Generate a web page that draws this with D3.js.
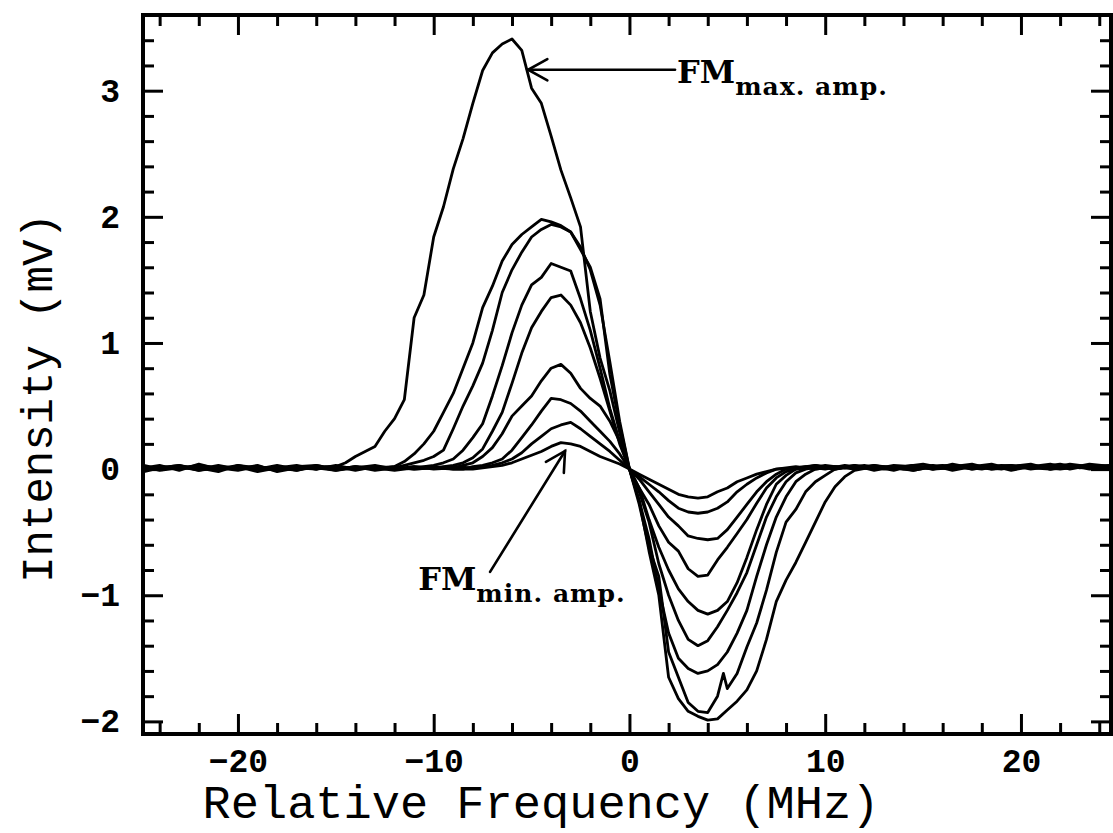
<!DOCTYPE html>
<html>
<head>
<meta charset="utf-8">
<script src="https://cdn.jsdelivr.net/npm/d3@7/dist/d3.min.js"></script>
<style>
  html, body { margin: 0; padding: 0; background: #fff; }
  svg { display: block; }
</style>
</head>
<body>
<svg id="chart" width="1113" height="833"></svg>
<script>
// ---------------- DATA (frequency in MHz, intensity in mV) ----------------
const xTickValues = [-20, -10, 0, 10, 20];
const yTickValues = [-2, -1, 0, 1, 2, 3];
const xTitle = "Relative Frequency (MHz)";
const yTitle = "Intensity (mV)";

// FM max. amplitude trace
const fm1 = [[-24.8,0.01],[-24,0.03],[-23,-0.01],[-22,0.04],[-21,0.0],[-20,0.02],[-19,-0.02],[-18,0.01],[-17,0.03],[-16,0.0],[-15.5,0.02],
[-15,0.02],[-14.5,0.05],[-14,0.10],[-13.5,0.14],[-13,0.18],[-12.5,0.30],[-12,0.40],[-11.5,0.55],[-11,1.20],[-10.5,1.38],[-10,1.84],[-9.5,2.08],[-9,2.38],[-8.5,2.62],[-8,2.90],[-7.5,3.16],[-7,3.30],[-6.5,3.37],[-6,3.41],[-5.5,3.32],[-5,3.02],[-4.5,2.90],[-4,2.64],[-3.5,2.37],[-3,2.15],[-2.5,1.92],[-2,1.25],[-1.5,0.88],[-1,0.62],[-0.5,0.29],[0,0.0],
[0.5,-0.25],[1,-0.65],[1.5,-1.0],[2,-1.65],[2.5,-1.82],[3,-1.92],[3.5,-1.96],[4,-1.99],[4.5,-1.98],[5,-1.91],[5.5,-1.84],[6,-1.75],[6.5,-1.60],[7,-1.35],[7.5,-1.05],[8,-0.88],[8.5,-0.74],[9,-0.58],[9.5,-0.42],[10,-0.26],[10.5,-0.14],[11,-0.06],[11.5,-0.01],
[12.5,0.02],[13.5,-0.01],[14.5,0.03],[15.5,0.0],[16.5,0.04],[17.5,0.01],[18.5,0.03],[19.5,-0.01],[20.5,0.02],[21.5,0.04],[22.5,0.0],[23.5,0.03],[24.7,0.01]];

const fm2 = [[-24.8,-0.02],[-24,0.01],[-23,0.03],[-22,-0.01],[-21,0.02],[-20,0.0],[-19,0.03],[-18,-0.02],[-17,0.01],[-16,0.02],[-15,-0.01],[-14,0.02],[-13,0.0],
[-12,0.02],[-11.5,0.06],[-11,0.12],[-10.5,0.20],[-10,0.30],[-9.5,0.45],[-9,0.60],[-8.5,0.80],[-8,1.00],[-7.5,1.28],[-7,1.45],[-6.5,1.65],[-6,1.78],[-5.5,1.86],[-5,1.92],[-4.5,1.98],[-4,1.96],[-3.5,1.93],[-3,1.88],[-2.5,1.74],[-2,1.60],[-1.5,1.35],[-1,0.75],[-0.5,0.35],[0,0],
[0.5,-0.28],[1,-0.62],[1.5,-0.85],[2,-1.45],[2.5,-1.65],[3,-1.85],[3.5,-1.92],[4,-1.93],[4.5,-1.80],[4.8,-1.62],[5,-1.74],[5.5,-1.62],[6,-1.41],[6.5,-1.22],[7,-0.96],[7.5,-0.66],[8,-0.42],[8.5,-0.32],[9,-0.18],[9.5,-0.10],[10,-0.05],[10.5,0.0],
[11.5,0.03],[12.5,-0.01],[13.5,0.02],[14.5,0.0],[15.5,0.03],[16.5,-0.01],[17.5,0.02],[18.5,0.04],[19.5,0.0],[20.5,0.03],[21.5,0.01],[22.5,0.04],[23.5,0.02],[24.7,0.03]];

const fm3 = [[-24.8,0.03],[-24,0.0],[-23,0.02],[-22,0.01],[-21,-0.02],[-20,0.03],[-19,0.0],[-18,0.02],[-17,-0.01],[-16,0.03],[-15,0.0],[-14,0.02],[-13,-0.01],
[-12,0.01],[-11.5,0.03],[-11,0.05],[-10.5,0.07],[-10,0.10],[-9.5,0.15],[-9,0.32],[-8.5,0.50],[-8,0.66],[-7.5,0.84],[-7,1.10],[-6.5,1.40],[-6,1.58],[-5.5,1.72],[-5,1.84],[-4.5,1.90],[-4,1.94],[-3.5,1.92],[-3,1.88],[-2.5,1.76],[-2,1.58],[-1.5,1.30],[-1,0.85],[-0.5,0.38],[0,0],
[0.5,-0.25],[1,-0.55],[1.5,-0.95],[2,-1.30],[2.5,-1.50],[3,-1.58],[3.5,-1.62],[4,-1.60],[4.5,-1.55],[5,-1.45],[5.5,-1.30],[6,-1.12],[6.5,-0.85],[7,-0.60],[7.5,-0.38],[8,-0.22],[8.5,-0.10],[9,-0.04],[9.5,0.0],
[10.5,0.02],[11.5,0.0],[12.5,0.03],[13.5,0.01],[14.5,-0.01],[15.5,0.02],[16.5,0.03],[17.5,0.0],[18.5,0.02],[19.5,0.03],[20.5,0.0],[21.5,0.02],[22.5,0.03],[23.5,0.0],[24.7,0.02]];

const fm4 = [[-24.8,0.0],[-24,0.02],[-23,0.0],[-22,0.03],[-21,0.01],[-20,-0.01],[-19,0.02],[-18,0.0],[-17,0.02],[-16,0.03],[-15,0.0],[-14,0.01],[-13,0.03],[-12,0.0],
[-11,0.01],[-10.5,0.02],[-10,0.03],[-9.5,0.05],[-9,0.08],[-8.5,0.15],[-8,0.25],[-7.5,0.36],[-7,0.58],[-6.5,0.82],[-6,1.08],[-5.5,1.30],[-5,1.46],[-4.5,1.52],[-4,1.63],[-3.5,1.60],[-3,1.57],[-2.5,1.35],[-2,1.10],[-1.5,0.80],[-1,0.48],[-0.5,0.22],[0,0],
[0.5,-0.18],[1,-0.42],[1.5,-0.75],[2,-1.0],[2.5,-1.20],[3,-1.35],[3.5,-1.40],[4,-1.36],[4.5,-1.25],[5,-1.12],[5.5,-0.98],[6,-0.82],[6.5,-0.60],[7,-0.38],[7.5,-0.22],[8,-0.10],[8.5,-0.03],[9,0.0],
[10,0.03],[11,0.01],[12,0.03],[13,0.0],[14,0.02],[15,0.04],[16,0.01],[17,0.02],[18,0.0],[19,0.03],[20,0.01],[21,0.02],[22,0.04],[23,0.01],[24,0.02],[24.7,0.0]];

const fm5 = [[-24.8,0.02],[-24,-0.01],[-23,0.01],[-22,0.02],[-21,0.0],[-20,0.03],[-19,0.01],[-18,-0.01],[-17,0.02],[-16,0.0],[-15,0.03],[-14,0.0],[-13,0.02],[-12,0.01],[-11,0.0],
[-10,0.01],[-9.5,0.02],[-9,0.03],[-8.5,0.05],[-8,0.09],[-7.5,0.16],[-7,0.30],[-6.5,0.45],[-6,0.68],[-5.5,0.92],[-5,1.12],[-4.5,1.25],[-4,1.36],[-3.5,1.38],[-3,1.30],[-2.5,1.16],[-2,0.96],[-1.5,0.72],[-1,0.46],[-0.5,0.20],[0,0],
[0.5,-0.15],[1,-0.40],[1.5,-0.62],[2,-0.80],[2.5,-0.95],[3,-1.05],[3.5,-1.12],[4,-1.15],[4.5,-1.12],[5,-1.05],[5.5,-0.90],[6,-0.70],[6.5,-0.48],[7,-0.28],[7.5,-0.12],[8,-0.05],[8.5,0.0],
[9.5,0.02],[10.5,0.0],[11.5,0.03],[12.5,0.01],[13.5,0.02],[14.5,-0.01],[15.5,0.02],[16.5,0.0],[17.5,0.03],[18.5,0.01],[19.5,0.02],[20.5,0.04],[21.5,0.0],[22.5,0.02],[23.5,0.01],[24.7,0.03]];

const fm6 = [[-24.8,0.0],[-24,0.01],[-23,0.03],[-22,0.0],[-21,0.02],[-20,0.01],[-19,0.0],[-18,0.03],[-17,0.0],[-16,0.01],[-15,0.02],[-14,-0.01],[-13,0.02],[-12,0.0],[-11,0.02],[-10,0.0],
[-9,0.01],[-8.5,0.03],[-8,0.05],[-7.5,0.10],[-7,0.17],[-6.5,0.28],[-6,0.42],[-5.5,0.50],[-5,0.58],[-4.5,0.70],[-4,0.80],[-3.5,0.83],[-3,0.76],[-2.5,0.64],[-2,0.56],[-1.5,0.50],[-1,0.38],[-0.5,0.22],[0,0],
[0.5,-0.15],[1,-0.28],[1.5,-0.45],[2,-0.58],[2.5,-0.65],[3,-0.79],[3.5,-0.85],[4,-0.84],[4.5,-0.72],[5,-0.62],[5.5,-0.51],[6,-0.40],[6.5,-0.27],[7,-0.15],[7.5,-0.07],[8,-0.02],[8.5,0.0],
[9.5,0.03],[10.5,0.01],[11.5,0.02],[12.5,0.0],[13.5,0.03],[14.5,0.02],[15.5,0.0],[16.5,0.02],[17.5,0.04],[18.5,0.0],[19.5,0.02],[20.5,0.01],[21.5,0.03],[22.5,0.01],[23.5,0.04],[24.7,0.02]];

const fm7 = [[-24.8,0.02],[-24,0.0],[-23,0.02],[-22,-0.01],[-21,0.01],[-20,0.02],[-19,0.0],[-18,0.01],[-17,-0.01],[-16,0.02],[-15,0.0],[-14,0.02],[-13,0.01],[-12,-0.01],[-11,0.01],[-10,0.02],[-9,0.0],
[-8.5,0.0],[-8,0.02],[-7.5,0.03],[-7,0.05],[-6.5,0.08],[-6,0.15],[-5.5,0.25],[-5,0.35],[-4.5,0.46],[-4,0.56],[-3.5,0.55],[-3,0.52],[-2.5,0.46],[-2,0.38],[-1.5,0.30],[-1,0.22],[-0.5,0.12],[0,0],
[0.5,-0.08],[1,-0.18],[1.5,-0.28],[2,-0.38],[2.5,-0.45],[3,-0.53],[3.5,-0.55],[4,-0.56],[4.5,-0.55],[5,-0.48],[5.5,-0.38],[6,-0.28],[6.5,-0.18],[7,-0.10],[7.5,-0.04],[8,0.0],
[9,0.02],[10,0.0],[11,0.03],[12,0.01],[13,0.02],[14,0.0],[15,0.02],[16,0.03],[17,0.01],[18,0.02],[19,0.0],[20,0.03],[21,0.02],[22,0.0],[23,0.02],[24,0.03],[24.7,0.01]];

const fm8 = [[-24.8,-0.01],[-24,0.02],[-23,0.01],[-22,0.0],[-21,0.03],[-20,0.0],[-19,0.02],[-18,0.0],[-17,0.02],[-16,0.01],[-15,-0.01],[-14,0.01],[-13,0.02],[-12,0.0],[-11,0.02],[-10,0.01],[-9,0.02],
[-8,0.01],[-7.5,0.02],[-7,0.03],[-6.5,0.05],[-6,0.08],[-5.5,0.13],[-5,0.20],[-4.5,0.26],[-4,0.32],[-3.5,0.35],[-3,0.37],[-2.5,0.32],[-2,0.26],[-1.5,0.20],[-1,0.14],[-0.5,0.07],[0,0],
[0.5,-0.06],[1,-0.12],[1.5,-0.18],[2,-0.25],[2.5,-0.31],[3,-0.34],[3.5,-0.35],[4,-0.34],[4.5,-0.31],[5,-0.26],[5.5,-0.18],[6,-0.12],[6.5,-0.07],[7,-0.03],[7.5,0.0],
[8.5,0.02],[9.5,0.0],[10.5,0.02],[11.5,0.01],[12.5,0.03],[13.5,0.0],[14.5,0.02],[15.5,0.01],[16.5,0.03],[17.5,0.0],[18.5,0.02],[19.5,0.03],[20.5,0.01],[21.5,0.0],[22.5,0.03],[23.5,0.02],[24.7,0.0]];

// FM min. amplitude trace
const fm9 = [[-24.8,0.01],[-24,0.0],[-23,0.01],[-22,0.03],[-21,0.0],[-20,0.01],[-19,0.02],[-18,-0.01],[-17,0.01],[-16,0.0],[-15,0.02],[-14,0.0],[-13,0.01],[-12,0.02],[-11,0.0],[-10,0.01],[-9,0.0],
[-8,0.0],[-7.5,0.01],[-7,0.02],[-6.5,0.03],[-6,0.05],[-5.5,0.08],[-5,0.11],[-4.5,0.14],[-4,0.18],[-3.5,0.21],[-3,0.20],[-2.5,0.18],[-2,0.14],[-1.5,0.10],[-1,0.07],[-0.5,0.04],[0,0],
[0.5,-0.04],[1,-0.08],[1.5,-0.12],[2,-0.16],[2.5,-0.20],[3,-0.22],[3.5,-0.23],[4,-0.22],[4.5,-0.18],[5,-0.15],[5.5,-0.10],[6,-0.07],[6.5,-0.04],[7,-0.02],[7.5,0.0],
[8.5,0.01],[9.5,0.03],[10.5,0.0],[11.5,0.02],[12.5,0.0],[13.5,0.01],[14.5,0.03],[15.5,0.0],[16.5,0.01],[17.5,0.02],[18.5,0.0],[19.5,0.01],[20.5,0.03],[21.5,0.0],[22.5,0.01],[23.5,0.02],[24.7,0.01]];

const traces = [fm1, fm2, fm3, fm4, fm5, fm6, fm7, fm8, fm9];

// annotations (data coordinates)
const annMax = { label: "FM", sub: "max. amp.", text: [2.43, 3.063], from: [2.33, 3.166], to: [-5.18, 3.166] };
const annMin = { label: "FM", sub: "min. amp.", text: [-10.79, -0.958], from: [-7.12, -0.815], to: [-3.29, 0.144] };

// ---------------- CHART ----------------
const svg = d3.select("#chart");
const L = 143, R = 1111, T = 15, B = 734;

const x = d3.scaleLinear().domain([-24.85, 24.6]).range([L, R]);
const y = d3.scaleLinear().domain([-2.1, 3.6]).range([B, T]);

svg.append("rect").attr("width", 1113).attr("height", 833).attr("fill", "#fff");

svg.append("defs").append("clipPath").attr("id", "clip")
  .append("rect").attr("x", L).attr("y", T).attr("width", R - L).attr("height", B - T);

// traces
const line = d3.line().x(d => x(d[0])).y(d => y(d[1]));
svg.append("g").attr("clip-path", "url(#clip)")
  .selectAll("path").data(traces).join("path")
  .attr("d", line)
  .attr("fill", "none")
  .attr("stroke", "#000")
  .attr("stroke-width", 2.8)
  .attr("stroke-linejoin", "round");

// axes helpers
const tickFont = "'Liberation Mono', 'DejaVu Sans Mono', monospace";
function styleAxis(g) {
  g.select(".domain").remove();
  g.selectAll(".tick line").attr("stroke", "#000").attr("stroke-width", 3);
  g.selectAll(".tick text").attr("fill", "#000")
    .style("font-family", tickFont).style("font-size", "33px").style("font-weight", "bold");
}
const minorX = x.ticks(25).filter(v => !xTickValues.includes(v));
const minorY = y.ticks(28).filter(v => !yTickValues.some(t => Math.abs(t - v) < 1e-6));

// bottom
svg.append("g").attr("transform", `translate(0,${B})`)
  .call(d3.axisBottom(x).tickValues(xTickValues).tickSize(-20).tickPadding(15)).call(styleAxis);
svg.append("g").attr("transform", `translate(0,${B})`)
  .call(d3.axisBottom(x).tickValues(minorX).tickSize(-11).tickFormat("")).call(styleAxis);
// top
svg.append("g").attr("transform", `translate(0,${T})`)
  .call(d3.axisTop(x).tickValues(xTickValues).tickSize(-20).tickFormat("")).call(styleAxis);
svg.append("g").attr("transform", `translate(0,${T})`)
  .call(d3.axisTop(x).tickValues(minorX).tickSize(-11).tickFormat("")).call(styleAxis);
// left
svg.append("g").attr("transform", `translate(${L},0)`)
  .call(d3.axisLeft(y).tickValues(yTickValues).tickSize(-20).tickPadding(23).tickFormat(d3.format("d"))).call(styleAxis);
svg.append("g").attr("transform", `translate(${L},0)`)
  .call(d3.axisLeft(y).tickValues(minorY).tickSize(-11).tickFormat("")).call(styleAxis);
// right
svg.append("g").attr("transform", `translate(${R},0)`)
  .call(d3.axisRight(y).tickValues(yTickValues).tickSize(-20).tickFormat("")).call(styleAxis);
svg.append("g").attr("transform", `translate(${R},0)`)
  .call(d3.axisRight(y).tickValues(minorY).tickSize(-11).tickFormat("")).call(styleAxis);

// frame
svg.append("rect").attr("x", L).attr("y", T).attr("width", R - L).attr("height", B - T)
  .attr("fill", "none").attr("stroke", "#000").attr("stroke-width", 4);

// titles
svg.append("text").attr("x", 541).attr("y", 818).attr("text-anchor", "middle")
  .style("font-family", tickFont).style("font-size", "47px").attr("fill", "#000")
  .text(xTitle);
svg.append("text").attr("transform", "translate(52,398) rotate(-90)").attr("text-anchor", "middle")
  .style("font-family", tickFont).style("font-size", "44px").attr("fill", "#000")
  .text(yTitle);

// annotations
function arrow(a) {
  const x0 = x(a.from[0]), y0 = y(a.from[1]), x1 = x(a.to[0]), y1 = y(a.to[1]);
  const ang = Math.atan2(y0 - y1, x0 - x1), len = 22, spread = 0.5;
  const g = svg.append("g").attr("stroke", "#000").attr("stroke-width", 2.6).attr("fill", "none")
    .attr("stroke-linecap", "round");
  g.append("line").attr("x1", x0).attr("y1", y0).attr("x2", x1).attr("y2", y1);
  g.append("path").attr("d",
    `M${x1 + len * Math.cos(ang + spread)},${y1 + len * Math.sin(ang + spread)}L${x1},${y1}L${x1 + len * Math.cos(ang - spread)},${y1 + len * Math.sin(ang - spread)}`);
  const t = svg.append("text").attr("x", x(a.text[0])).attr("y", y(a.text[1])).attr("fill", "#000")
    .style("font-family", "'DejaVu Serif', 'Liberation Serif', serif");
  t.append("tspan").style("font-size", "32px").style("font-weight", "bold").text(a.label);
  t.append("tspan").attr("dy", 12).style("font-size", "25px").style("font-weight", "bold")
    .style("letter-spacing", "1px").text(a.sub);
}
arrow(annMax);
arrow(annMin);
</script>
</body>
</html>
